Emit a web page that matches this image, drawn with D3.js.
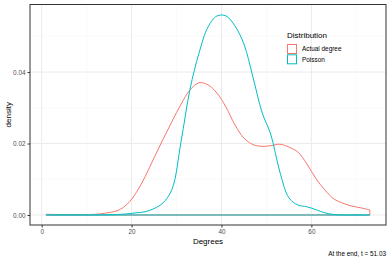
<!DOCTYPE html>
<html>
<head>
<meta charset="utf-8">
<script src="https://cdn.jsdelivr.net/npm/d3@7"></script>
<style>
  body { margin: 0; background: #fff; }
  text { font-family: "Liberation Sans", Arial, sans-serif; }
</style>
</head>
<body>
<div id="chart"></div>
<script>
// degree grid the densities were read at
const degrees = [1, 3, 5, 7, 9, 11, 13, 15, 17, 19, 21, 23, 25, 27, 29, 31, 33, 35, 37,
                 39, 41, 43, 45, 47, 49, 51, 53, 55, 57, 59, 61, 63, 65, 67, 69, 71, 73];

const actualDensity = [0.0002, 0.00014, 0.0001, 0.00005, 0.00005, 0.00014, 0.0003, 0.0007, 0.0013,
  0.003, 0.0062, 0.0107, 0.016, 0.0212, 0.0262, 0.031, 0.035, 0.037, 0.0364, 0.0341, 0.0302,
  0.0252, 0.0215, 0.0197, 0.0192, 0.0194, 0.0198, 0.019, 0.0176, 0.0143, 0.0102, 0.007, 0.0045,
  0.0033, 0.0025, 0.002, 0.0014];

const poissonDensity = [0, 0, 0, 0, 0, 0, 0.00002, 0.00006, 0.00014, 0.0003, 0.0006, 0.0009,
  0.0018, 0.0034, 0.0072, 0.0205, 0.0352, 0.0453, 0.0526, 0.0557, 0.0557, 0.0529, 0.0478, 0.0386,
  0.0288, 0.0224, 0.012, 0.0048, 0.0028, 0.0023, 0.0015, 0.0006, 0.00014, 0, 0, 0, 0];

const seriesNames = ["Actual degree", "Poisson"];
const seriesColors = ["#F8766D", "#00BFC4"];
const xTicks = [0, 20, 40, 60];
const xMinor = [10, 30, 50, 70];
const yTicks = [0, 0.02, 0.04];
const yMinor = [0.01, 0.03, 0.05];

const W = 390, H = 260;
const panel = { left: 30, right: 386, top: 4.5, bottom: 225 };

const svg = d3.select("#chart").append("svg")
    .attr("width", W)
    .attr("height", H);

const x = d3.scaleLinear().domain([-2.6, 76.6]).range([panel.left, panel.right]);
const y = d3.scaleLinear().domain([-0.0028, 0.0589]).range([panel.bottom, panel.top]);

const series = [actualDensity, poissonDensity].map((vals, i) => ({
    name: seriesNames[i],
    color: seriesColors[i],
    points: degrees.map((d, j) => ({ x: d, y: vals[j] }))
}));

// grid
const grid = svg.append("g");
grid.selectAll(".xminor").data(xMinor).enter().append("line")
    .attr("x1", d => x(d)).attr("x2", d => x(d))
    .attr("y1", panel.top).attr("y2", panel.bottom)
    .attr("stroke", "#F5F5F5").attr("stroke-width", 0.5);
grid.selectAll(".yminor").data(yMinor).enter().append("line")
    .attr("x1", panel.left).attr("x2", panel.right)
    .attr("y1", d => y(d)).attr("y2", d => y(d))
    .attr("stroke", "#F5F5F5").attr("stroke-width", 0.5);
grid.selectAll(".xmajor").data(xTicks).enter().append("line")
    .attr("x1", d => x(d)).attr("x2", d => x(d))
    .attr("y1", panel.top).attr("y2", panel.bottom)
    .attr("stroke", "#EBEBEB").attr("stroke-width", 1);
grid.selectAll(".ymajor").data(yTicks).enter().append("line")
    .attr("x1", panel.left).attr("x2", panel.right)
    .attr("y1", d => y(d)).attr("y2", d => y(d))
    .attr("stroke", "#EBEBEB").attr("stroke-width", 1);

// density outlines (closed polygons, no fill)
const area = d3.area()
    .x(d => x(d.x))
    .y0(y(0))
    .y1(d => y(Math.max(0, d.y)))
    .curve(d3.curveCatmullRom.alpha(0.5));

svg.append("g").selectAll("path").data(series).enter().append("path")
    .attr("d", d => area(d.points))
    .attr("fill", "none")
    .attr("stroke", d => d.color)
    .attr("stroke-width", 1);

// panel border
svg.append("rect")
    .attr("x", panel.left).attr("y", panel.top)
    .attr("width", panel.right - panel.left).attr("height", panel.bottom - panel.top)
    .attr("fill", "none").attr("stroke", "#333333").attr("stroke-width", 1);

// axes
const xAxis = svg.append("g")
    .attr("transform", `translate(0,${panel.bottom})`)
    .call(d3.axisBottom(x).tickValues(xTicks).tickSize(2.5).tickPadding(2).tickFormat(d3.format("d")));
const yAxis = svg.append("g")
    .attr("transform", `translate(${panel.left},0)`)
    .call(d3.axisLeft(y).tickValues(yTicks).tickSize(2.5).tickPadding(2).tickFormat(d3.format(".2f")));
[xAxis, yAxis].forEach(a => {
    a.select(".domain").remove();
    a.selectAll(".tick line").attr("stroke", "#333333");
    a.selectAll(".tick text").attr("fill", "#4D4D4D").style("font-size", "6.4px")
        .style("font-family", "'Liberation Sans', Arial, sans-serif");
});

// titles
svg.append("text")
    .attr("x", (panel.left + panel.right) / 2).attr("y", 244)
    .attr("text-anchor", "middle").style("font-size", "8px").attr("fill", "#000")
    .text("Degrees");
svg.append("text")
    .attr("transform", `translate(10.5,${(panel.top + panel.bottom) / 2}) rotate(-90)`)
    .attr("text-anchor", "middle").style("font-size", "8px").attr("fill", "#000")
    .text("density");
svg.append("text")
    .attr("x", 386).attr("y", 255.5)
    .attr("text-anchor", "end").style("font-size", "6.4px").attr("fill", "#000")
    .text("At the end, t = 51.03");

// legend
const legend = svg.append("g").attr("transform", "translate(287,0)");
legend.append("text")
    .attr("x", 0).attr("y", 37.5)
    .style("font-size", "8px").attr("fill", "#000")
    .text("Distribution");
const item = legend.selectAll(".item").data(series).enter().append("g")
    .attr("transform", (d, i) => `translate(0,${44 + i * 10.3})`);
item.append("rect")
    .attr("x", 0.5).attr("y", 0.5).attr("width", 9).attr("height", 9)
    .attr("fill", "#fff").attr("stroke", d => d.color).attr("stroke-width", 1);
item.append("text")
    .attr("x", 15).attr("y", 5).attr("dy", "0.35em")
    .style("font-size", "6.4px").attr("fill", "#000")
    .text(d => d.name);
</script>
</body>
</html>
